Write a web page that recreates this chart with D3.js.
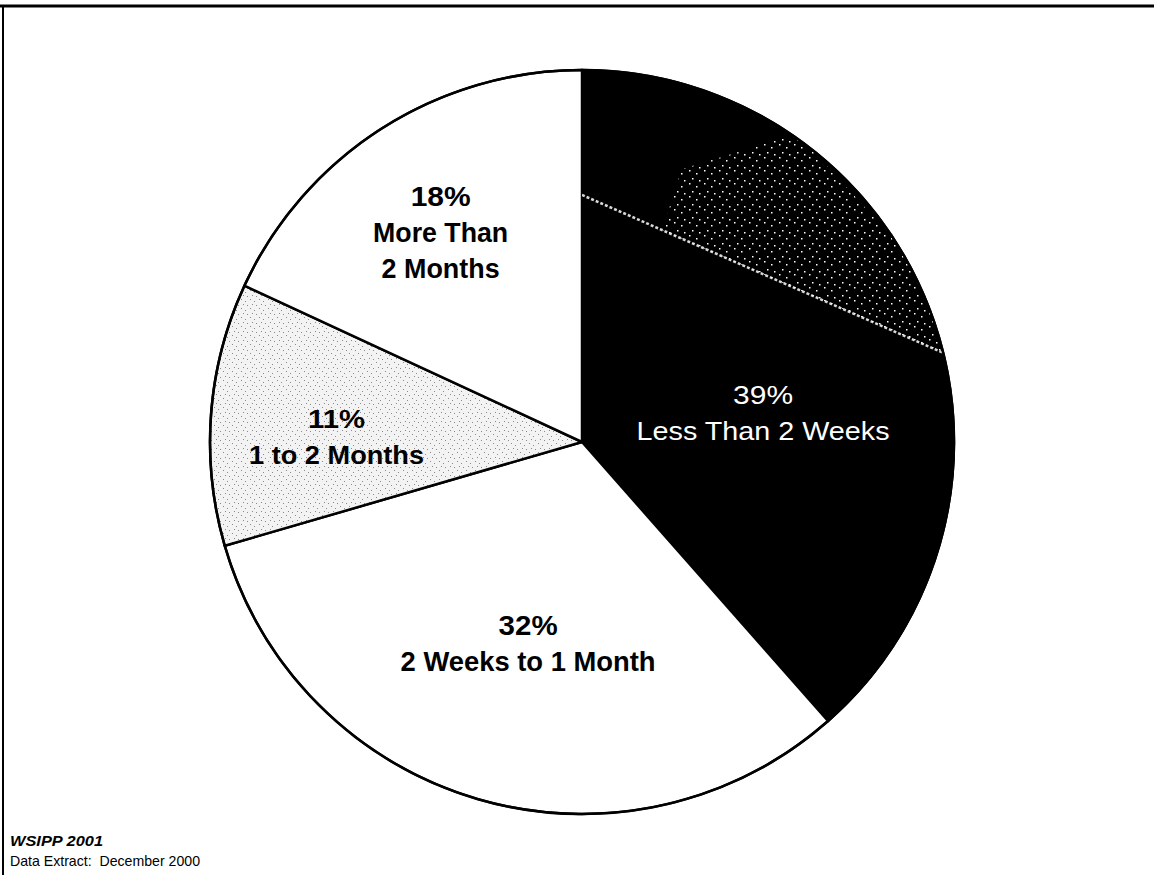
<!DOCTYPE html>
<html>
<head>
<meta charset="utf-8">
<script src="https://cdn.jsdelivr.net/npm/d3@7"></script>
<style>
  html, body { margin: 0; padding: 0; background: #fff; }
  svg { display: block; }
</style>
</head>
<body>
<svg id="chart" width="1154" height="875"></svg>
<script>
// ---- data ----
const categories = ["Less Than 2 Weeks", "2 Weeks to 1 Month", "1 to 2 Months", "More Than 2 Months"];
const values = [38.5, 32.0, 11.4, 18.1];
const percentLabels = ["39%", "32%", "11%", "18%"];
const labelLines = [["Less Than 2 Weeks"], ["2 Weeks to 1 Month"], ["1 to 2 Months"], ["More Than", "2 Months"]];
const footerLines = ["WSIPP 2001", "Data Extract:  December 2000"];

// ---- layout / style ----
const W = 1154, H = 875;
const cx = 582, cy = 442, R = 372;
const fills = ["#000", "#fff", "url(#speckle)", "#fff"];
const textColors = ["#fff", "#000", "#000", "#000"];
const textWeights = ["normal", "bold", "bold", "bold"];
// label placement: radius ratio and angle nudge (degrees) from slice mid-angle
const labelPlace = [
  { k: 0.493, nudge: 11.6, size: 26, widths: [60, 253] },
  { k: 0.56, nudge: -1.2, size: 27, widths: [59, 255] },
  { k: 0.66, nudge: -3.0, size: 26, widths: [57, 175] },
  { k: 0.68, nudge: -1.4, size: 28, widths: [60, 135, 118] }
];
const lineGap = 36;

const svg = d3.select("#chart");
const defs = svg.append("defs");

// light gray speckle pattern (scanned halftone look)
const pat = defs.append("pattern").attr("id", "speckle")
  .attr("patternUnits", "userSpaceOnUse").attr("width", 9).attr("height", 9);
pat.append("rect").attr("width", 9).attr("height", 9).attr("fill", "#f3f3f3");
[[1,1],[5,3],[3,6],[7,7]].forEach(([x, y]) =>
  pat.append("rect").attr("x", x).attr("y", y).attr("width", 1).attr("height", 1).attr("fill", "#8a8a8a"));

// sparse white speckles on black
const pat2 = defs.append("pattern").attr("id", "whiteSpeck")
  .attr("patternUnits", "userSpaceOnUse").attr("width", 15).attr("height", 13);
pat2.append("rect").attr("width", 15).attr("height", 13).attr("fill", "#000");
[[2,1],[9,4],[5,9],[12,11]].forEach(([x, y]) =>
  pat2.append("rect").attr("x", x).attr("y", y).attr("width", 1.5).attr("height", 1.5).attr("fill", "#fff"));

// frame
svg.append("line").attr("x1", 0).attr("x2", W).attr("y1", 6).attr("y2", 6)
  .attr("stroke", "#000").attr("stroke-width", 3);
svg.append("line").attr("x1", 3).attr("x2", 3).attr("y1", 5).attr("y2", H)
  .attr("stroke", "#000").attr("stroke-width", 2);

const pie = d3.pie().sort(null).value(d => d)(values);
const arc = d3.arc().innerRadius(0).outerRadius(R);

const g = svg.append("g").attr("transform", `translate(${cx},${cy})`);

g.selectAll("path.slice").data(pie).join("path")
  .attr("class", "slice")
  .attr("d", arc)
  .attr("fill", (d, i) => fills[i])
  .attr("stroke", "#000")
  .attr("stroke-width", 2.5)
  .attr("stroke-linejoin", "round");

// scan artefact in the black slice
defs.append("clipPath").attr("id", "clipBlack").append("path").attr("d", arc(pie[0]));
const polar = (deg, r) => [r * Math.sin(deg * Math.PI / 180), -r * Math.cos(deg * Math.PI / 180)];
const s0 = polar(0, 0.664 * R), s1 = polar(76.6, R + 4);
const lerp = (a, b, t) => [a[0] + (b[0] - a[0]) * t, a[1] + (b[1] - a[1]) * t];
const art = g.append("g").attr("clip-path", "url(#clipBlack)");
art.append("path")
  .attr("d", `M${lerp(s0, s1, 0.22)}L${s1}L${polar(60, R + 4)}L${polar(35, R + 4)}L${polar(20, 0.78 * R)}Z`)
  .attr("fill", "url(#whiteSpeck)");
art.append("line").attr("x1", s0[0]).attr("y1", s0[1]).attr("x2", s1[0]).attr("y2", s1[1])
  .attr("stroke", "#fff").attr("stroke-width", 2.5).attr("stroke-dasharray", "3,2").attr("opacity", 0.85);

// outer ring
g.append("circle").attr("r", R).attr("fill", "none").attr("stroke", "#000").attr("stroke-width", 2.5);

// labels
pie.forEach((d, i) => {
  const p = labelPlace[i];
  const mid = (d.startAngle + d.endAngle) / 2 * 180 / Math.PI + p.nudge;
  const [lx, ly] = polar(mid, p.k * R);
  const lines = [percentLabels[i], ...labelLines[i]];
  const n = lines.length;
  lines.forEach((t, j) => {
    const yc = ly + (j - (n - 1) / 2) * lineGap;
    g.append("text")
      .attr("x", lx).attr("y", yc + p.size * 0.36)
      .attr("text-anchor", "middle")
      .attr("font-family", "'Liberation Sans', Arial, sans-serif")
      .attr("font-size", p.size)
      .attr("font-weight", textWeights[i])
      .attr("fill", textColors[i])
      .attr("textLength", p.widths[j])
      .attr("lengthAdjust", "spacingAndGlyphs")
      .text(t);
  });
});

// footer
svg.append("text").attr("x", 10).attr("y", 846)
  .attr("font-family", "'Liberation Sans', Arial, sans-serif")
  .attr("font-size", 14.5).attr("font-weight", "bold").attr("font-style", "italic")
  .attr("textLength", 93).attr("lengthAdjust", "spacingAndGlyphs")
  .text(footerLines[0]);
svg.append("text").attr("x", 10).attr("y", 866)
  .attr("font-family", "'Liberation Sans', Arial, sans-serif")
  .attr("font-size", 14.5)
  .attr("textLength", 190).attr("lengthAdjust", "spacingAndGlyphs")
  .style("white-space", "pre")
  .text(footerLines[1]);
</script>
</body>
</html>
